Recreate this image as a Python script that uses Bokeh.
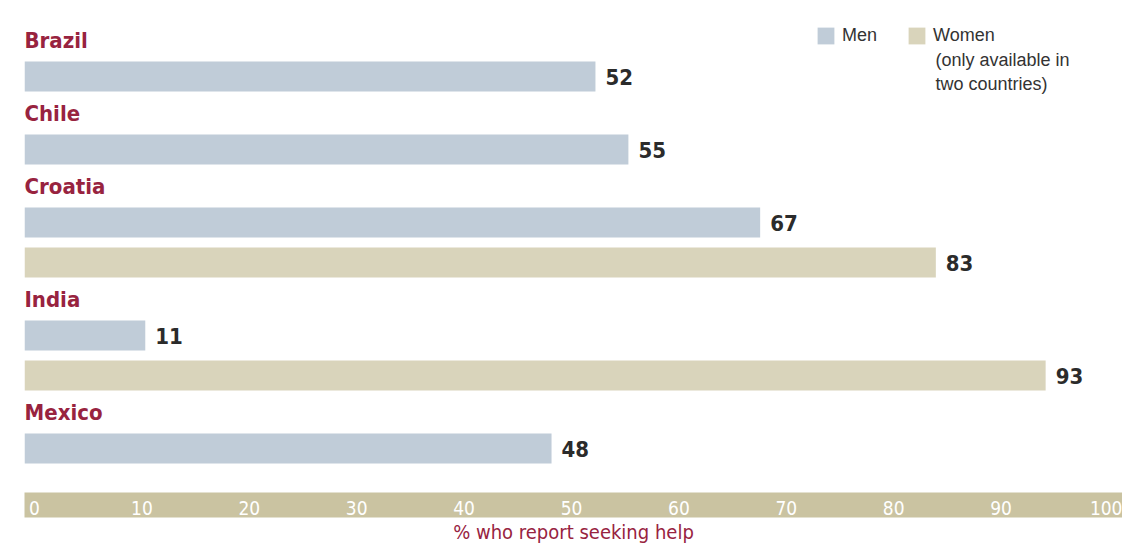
from bokeh.plotting import figure
from bokeh.models import (Range1d, LinearAxis, FixedTicker, ColumnDataSource,
                          Legend, LegendItem, Label)
from bokeh.core.properties import value
from bokeh.embed import file_html
from bokeh.resources import INLINE

# ---- data ----
countries = ["Brazil", "Chile", "Croatia", "India", "Mexico"]
men = [52, 55, 67, 11, 48]
women = [None, None, 83, 93, None]
ticks = [0, 10, 20, 30, 40, 50, 60, 70, 80, 90, 100]
axis_title = "% who report seeking help"
men_label = "Men"
women_label = "Women"
women_note = "(only available in\ntwo countries)"

# ---- style ----
MEN_C = "#c0ccd8"
WOMEN_C = "#d9d4bb"
BAND_C = "#cac3a1"
RED = "#98233f"
DARK = "#2b2b2b"
COND = "DejaVu Sans Condensed"
REG = "Liberation Sans"

# vertical slot layout (screen-like units, top = 0)
FIRST_LABEL = 40
LABEL_TO_BAR = 36
BAR_TO_BAR = 40
BAR_TO_LABEL = 37

lab_y, bar_y, bar_v, bar_s = [], [], [], []
y = FIRST_LABEL
for c, m, w in zip(countries, men, women):
    lab_y.append(y)
    y += LABEL_TO_BAR
    vals = [(m, "men")] + ([(w, "women")] if w is not None else [])
    for i, (v, s) in enumerate(vals):
        if i > 0:
            y += BAR_TO_BAR
        bar_y.append(y)
        bar_v.append(v)
        bar_s.append(s)
    y += BAR_TO_LABEL

men_src = ColumnDataSource(dict(y=[b for b, s in zip(bar_y, bar_s) if s == "men"],
                                v=[v for v, s in zip(bar_v, bar_s) if s == "men"]))
wom_src = ColumnDataSource(dict(y=[b for b, s in zip(bar_y, bar_s) if s == "women"],
                                v=[v for v, s in zip(bar_v, bar_s) if s == "women"]))
all_src = ColumnDataSource(dict(y=bar_y, v=bar_v, t=[str(v) for v in bar_v]))
lab_src = ColumnDataSource(dict(y=lab_y, t=countries))

FRAME_H = 492
p = figure(frame_width=1098, frame_height=FRAME_H,
           x_range=Range1d(0, 100), y_range=Range1d(FRAME_H, 0),
           output_backend="svg", toolbar_location=None,
           x_axis_location=None, y_axis_location=None,
           min_border_left=24, min_border_right=0, min_border_top=0,
           min_border_bottom=0)
p.outline_line_color = None
p.grid.visible = False
p.background_fill_color = "white"
p.border_fill_color = "white"

r_men = p.hbar(y="y", left=0, right="v", height=30, source=men_src,
               fill_color=MEN_C, line_color=None)
r_wom = p.hbar(y="y", left=0, right="v", height=30, source=wom_src,
               fill_color=WOMEN_C, line_color=None)

p.text(x="v", y="y", text="t", source=all_src, x_offset=10,
       text_align="left", text_baseline="middle",
       text_font=value(COND), text_font_size="22px", text_font_style="bold",
       text_color=DARK)

p.text(x=0, y="y", text="t", source=lab_src,
       text_align="left", text_baseline="middle",
       text_font=value(COND), text_font_size="22px", text_font_style="bold",
       text_color=RED)

# tick-label band (labels sit on a slightly offset scale as in the original)
p.extra_x_ranges["lbl"] = Range1d(-0.931, 101.30)
ax = LinearAxis(x_range_name="lbl", ticker=FixedTicker(ticks=ticks))
ax.axis_line_color = None
ax.major_tick_line_color = None
ax.minor_tick_line_color = None
ax.major_label_text_color = "white"
ax.major_label_text_font = COND
ax.major_label_text_font_size = "19px"
ax.major_label_standoff = 2
ax.background_fill_color = BAND_C
p.add_layout(ax, "below")

ax2 = LinearAxis(ticker=FixedTicker(ticks=[]))
ax2.axis_line_color = None
ax2.major_tick_line_color = None
ax2.minor_tick_line_color = None
ax2.major_label_text_font_size = "0px"
ax2.major_label_standoff = 0
ax2.axis_label = axis_title
ax2.axis_label_standoff = 2
ax2.axis_label_text_font = COND
ax2.axis_label_text_font_size = "20px"
ax2.axis_label_text_font_style = "normal"
ax2.axis_label_text_color = RED
p.add_layout(ax2, "below")

legend = Legend(items=[LegendItem(label=men_label, renderers=[r_men]),
                       LegendItem(label=women_label, renderers=[r_wom])],
                orientation="horizontal", location=(791, FRAME_H - 46),
                glyph_width=21, glyph_height=21, label_standoff=6, spacing=29,
                padding=0, margin=0, border_line_color=None,
                background_fill_alpha=0,
                label_text_font=REG, label_text_font_size="18px",
                label_text_color="#333333")
p.add_layout(legend)

note = Label(x=911, y=FRAME_H - 49, x_units="screen", y_units="screen",
             text=women_note, text_font=REG, text_font_size="18px",
             text_color="#333333", text_baseline="top", text_align="left",
             text_line_height=1.22)
p.add_layout(note)

open("out.html", "w").write(file_html(p, INLINE))
